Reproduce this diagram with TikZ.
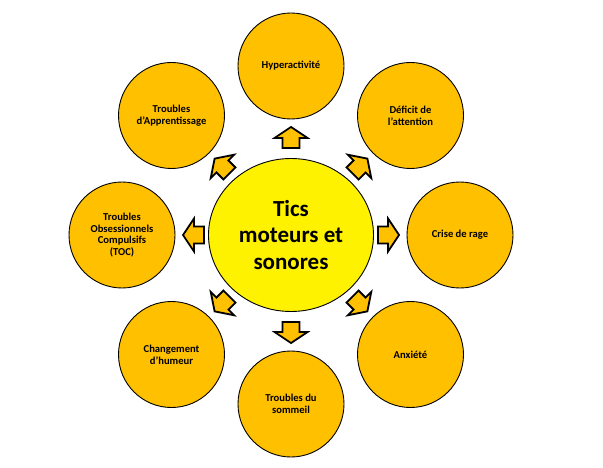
\documentclass[tikz,border=0pt]{standalone}
\usepackage{fontspec}
\setmainfont{Carlito}
\usetikzlibrary{shapes.geometric}
\definecolor{gold}{HTML}{FFC000}
\begin{document}
\begin{tikzpicture}[x=1pt,y=1pt,
    bubble/.style={circle, draw=black, line width=0.9pt, fill=gold, minimum size=106pt,
      inner sep=0pt, align=center, font=\fontsize{10.6}{11.7}\selectfont\bfseries},
    hub/.style={ellipse, draw=black, line width=0.9pt, fill=yellow, minimum width=165pt,
      minimum height=153pt, inner sep=0pt, align=center, font=\fontsize{23}{26.5}\selectfont\bfseries},
    blockarrow/.style={draw=black, line width=1.8pt, fill=gold, line join=miter}]

    % cadre de la figure
    \useasboundingbox (0,0) rectangle (603,467);

    % ellipse centrale
    \node[hub] (tics) at (291,232) {Tics\\moteurs et\\sonores};

    % les huit cercles autour
    \node[bubble] (hyper) at ([shift={(90:169)}]tics.center) {Hyperactivit\'e};
    \node[bubble] (deficit) at ([shift={(45:169)}]tics.center) {D\'eficit de\\l'attention};
    \node[bubble] (rage) at ([shift={(0:169)}]tics.center) {Crise de rage};
    \node[bubble] (anx) at ([shift={(-45:169)}]tics.center) {Anxi\'et\'e};
    \node[bubble] (sommeil) at ([shift={(-90:169)}]tics.center) {Troubles du\\sommeil};
    \node[bubble] (humeur) at ([shift={(-135:169)}]tics.center) {Changement\\d'humeur};
    \node[bubble] (toc) at ([shift={(180:169)}]tics.center) {Troubles\\Obsessionnels\\Compulsifs\\(TOC)};
    \node[bubble] (appr) at ([shift={(135:169)}]tics.center) {Troubles\\d'Apprentissage};

    % fl\`eches pleines vers chaque cercle
    \foreach \a in {0,45,...,315}
      \draw[blockarrow, shift={(tics.center)}, rotate=\a]
        (87,8.5) -- (97,8.5) -- (97,16.5) -- (108,0) -- (97,-16.5) -- (97,-8.5) -- (87,-8.5) -- cycle;

\end{tikzpicture}
\end{document}
